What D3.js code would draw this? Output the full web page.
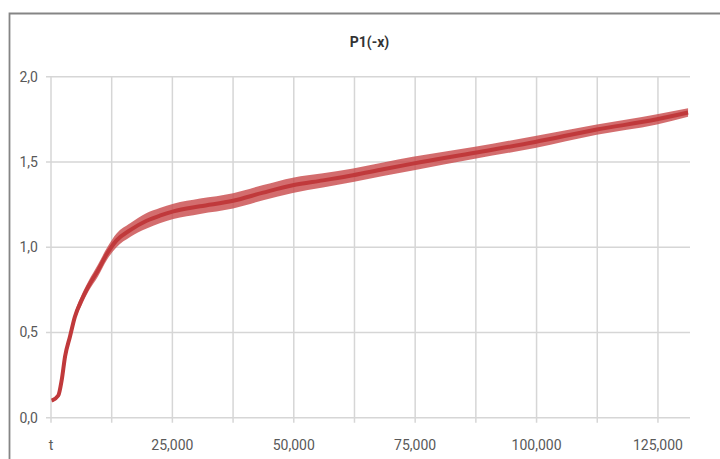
<html>
<head>
<style>
    body { margin: 0; background: #fff; }
    text { font-family: Roboto, "Liberation Sans", sans-serif; }
</style>
</head>
<body>
<svg id="chart"></svg>
<script src="https://cdn.jsdelivr.net/npm/d3@7"></script>
<script>
    // values
    let title = "P1(-x)"
    let xVals = [150, 1500, 2200, 2900, 3900, 4900, 6300, 7700, 9700, 11500, 13500, 16300, 19700,
        22400, 25200, 30700, 37500, 43700, 49800, 56000, 62200, 68400, 74500, 87300, 99700,
        112400, 124800, 131200]
    let yVals = [0.10, 0.13, 0.22, 0.36, 0.475, 0.59, 0.69, 0.77, 0.865, 0.96, 1.04, 1.10, 1.155,
        1.185, 1.21, 1.24, 1.272, 1.32, 1.363, 1.392, 1.422, 1.457, 1.49, 1.554, 1.617,
        1.69, 1.75, 1.79]
    // half height of the noisy band around the line
    let spread = [0.008, 0.01, 0.012, 0.015, 0.02, 0.025, 0.03, 0.03, 0.035, 0.035, 0.04, 0.04, 0.045,
        0.045, 0.045, 0.045, 0.045, 0.045, 0.045, 0.042, 0.04, 0.04, 0.04, 0.035, 0.035,
        0.03, 0.03, 0.025]
    let xGrid = [0, 12500, 25000, 37500, 50000, 62500, 75000, 87500, 100000, 112500, 125000]
    let xLabels = [0, 25000, 50000, 75000, 100000, 125000]
    let yTicks = [0, 0.5, 1.0, 1.5, 2.0]

    let width = 720, height = 459
    let plot = { left: 51, right: 690, top: 76.7, bottom: 417.7 }

    let svg = d3.select("#chart").attr("width", width).attr("height", height)

    let x = d3.scaleLinear().domain([0, 131600]).range([plot.left, plot.right])
    let y = d3.scaleLinear().domain([0, 2]).range([plot.bottom, plot.top])

    // outer frame (only left and top edges are in view)
    svg.append("path")
        .attr("d", `M9.5,${height} V13.5 H${width}`)
        .attr("fill", "none").attr("stroke", "#858585").attr("stroke-width", 1.8)

    // grid
    let grid = svg.append("g")
    grid.selectAll(".h").data(yTicks).enter().append("line")
        .attr("x1", plot.left - 5).attr("x2", plot.right)
        .attr("y1", d => y(d)).attr("y2", d => y(d))
        .attr("stroke", "#d6d6d6").attr("stroke-width", 1.5)
    grid.selectAll(".v").data(xGrid).enter().append("line")
        .attr("x1", d => x(d)).attr("x2", d => x(d))
        .attr("y1", plot.top).attr("y2", plot.bottom + 5)
        .attr("stroke", "#d6d6d6").attr("stroke-width", 1.5)

    // tick labels
    let fmtY = d => d3.format(".1f")(d).replace(".", ",")
    svg.append("g").selectAll("text").data(yTicks).enter().append("text")
        .attr("x", 38).attr("y", d => y(d)).attr("dy", "0.35em")
        .attr("text-anchor", "end").attr("font-size", 14).attr("fill", "#595959")
        .text(fmtY)
    svg.append("g").selectAll("text").data(xLabels).enter().append("text")
        .attr("x", d => x(d)).attr("y", 445).attr("dy", "0.35em")
        .attr("text-anchor", "middle").attr("font-size", 14).attr("fill", "#595959")
        .text(d => d === 0 ? "t" : d3.format(",")(d))

    svg.append("text")
        .attr("x", (plot.left + plot.right) / 2 - 1).attr("y", 42).attr("dy", "0.35em")
        .attr("text-anchor", "middle").attr("font-size", 14).attr("font-weight", "bold")
        .attr("fill", "#333").text(title)

    // series
    let pts = xVals.map((v, i) => ({ x: v, y: yVals[i], s: spread[i] }))

    let band = d3.area()
        .x(d => x(d.x)).y0(d => y(d.y - d.s)).y1(d => y(d.y + d.s))
        .curve(d3.curveMonotoneX)
    svg.append("path").datum(pts).attr("d", band)
        .attr("fill", "#c8494a").attr("opacity", 0.8)

    let line = d3.line().x(d => x(d.x)).y(d => y(d.y)).curve(d3.curveMonotoneX)
    svg.append("path").datum(pts).attr("d", line)
        .attr("fill", "none").attr("stroke", "#c0393b").attr("stroke-width", 4)
</script>
</body>
</html>
